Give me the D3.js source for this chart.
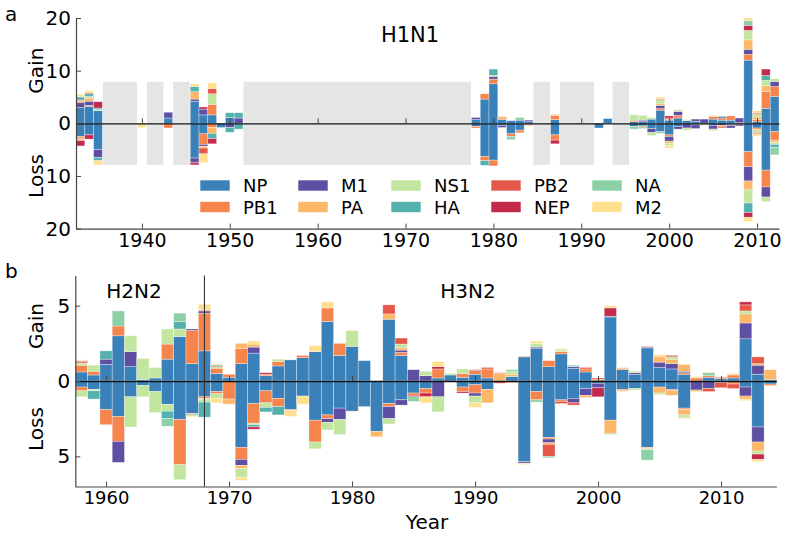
<!DOCTYPE html>
<html><head><meta charset="utf-8">
<script src="https://cdn.jsdelivr.net/npm/d3@7"></script>
<style>
html,body{margin:0;padding:0;background:#fff;}
svg{display:block;font-family:"DejaVu Sans",sans-serif;}
</style></head>
<body>
<svg id="chart" width="787" height="540"></svg>
<script>
// segment order (bottom to top of each stack)
const genes = ["NP","PB1","M1","PA","NS1","HA","PB2","NEP","NA","M2"];
const geneColors = ["#3a80b9","#f6844d","#5e4fa2","#fdb769","#c2e6a0","#55b1ad","#e55749","#c42a4c","#8cd1a5","#fee08e"];
// legend is laid out column-wise: NP/PB1, M1/PA, NS1/HA, PB2/NEP, NA/M2

// ---------- Panel a: H1N1 ----------
const yearsA = [1933,1934,1935,1940,1943,1946,1947,1948,1949,1950,1951,
  1978,1979,1980,1981,1982,1983,1984,1987,1992,1993,
  1996,1997,1998,1999,2000,2001,2002,2003,2004,2005,2006,2007,2008,2009,2010,2011,2012];
//            NP   PB1  M1   PA   NS1  HA   PB2  NEP  NA   M2
const gainA = [
  [3.0, 0,   1.0, 0.4, 0,   0.6, 0,   0,   0,   0.5],
  [3.2, 0.2, 0.8, 0.6, 0.3, 0.5, 0.2, 0,   0,   0.4],
  [2.4, 0,   0,   0,   0.2, 0.3, 0,   1.2, 0,   0  ],
  [0,   0,   0,   0,   0,   0,   0,   0,   0,   0  ],
  [1.0, 0,   1.1, 0,   0,   0,   0,   0,   0,   0  ],
  [4.2, 0,   0.4, 1.4, 0,   1.0, 0,   0,   0,   0.5],
  [1.6, 0,   1.1, 0,   0,   0,   0,   0.4, 0,   0  ],
  [1.6, 2.0, 0,   0,   2.0, 0,   1.0, 0,   0,   1.1],
  [0,   0,   0,   0,   0,   0,   0,   0,   0,   0  ],
  [1.1, 0,   0,   0,   0,   0.9, 0,   0,   0,   0  ],
  [0,   0,   1.0, 0,   0,   1.0, 0,   0,   0,   0  ],
  [0.7, 0,   0.4, 0,   0,   0,   0,   0,   0,   0  ],
  [4.6, 1.0, 0,   0,   0,   0,   0,   0,   0,   0  ],
  [7.5, 0.9, 0.5, 0.2, 0,   1.2, 0,   0,   0,   0  ],
  [0.7, 0.3, 0,   0.3, 0,   0,   0,   0,   0,   0  ],
  [0.5, 0,   0,   0,   0,   0,   0,   0,   0,   0  ],
  [0.6, 0,   0,   0,   0,   0,   0,   0,   0.5, 0  ],
  [0.3, 0,   0.3, 0,   0,   0,   0,   0,   0,   0  ],
  [0.7, 0.8, 0,   0.2, 0,   0,   0,   0,   0,   0.1],
  [0,   0,   0,   0,   0,   0,   0,   0,   0,   0  ],
  [0.9, 0,   0,   0,   0,   0,   0,   0,   0,   0  ],
  [0.3, 0.3, 0,   0,   1.0, 0,   0,   0,   0,   0  ],
  [0.3, 0,   0.3, 0,   0.9, 0,   0,   0,   0,   0  ],
  [0.8, 0,   0,   0,   0.3, 0,   0,   0,   0,   0  ],
  [2.5, 0.3, 0.6, 0.3, 0.8, 0,   0.2, 0,   0,   0.3],
  [0.6, 0.2, 0,   0,   0,   0,   0.2, 0.4, 0,   0  ],
  [1.0, 0.5, 0.75,0,   0.3, 0,   0,   0,   0,   0  ],
  [0.5, 0,   0,   0,   0.2, 0,   0,   0,   0,   0  ],
  [0.4, 0,   0.4, 0,   0,   0,   0,   0,   0,   0  ],
  [0,   0,   0.8, 0,   0,   0,   0,   0,   0,   0  ],
  [0.8, 0.5, 0,   0,   0,   0,   0,   0,   0,   0.2],
  [0.6, 0.3, 0.3, 0,   0,   0,   0,   0,   0.2, 0  ],
  [0.6, 0.8, 0,   0,   0,   0,   0,   0,   0,   0  ],
  [0,   0.1, 0.9, 0,   0,   0,   0,   0,   0,   0  ],
  [12.0,1.1, 0.95,1.8, 1.8, 0,   0,   0.95,0.9, 0.5],
  [0.3, 0.4, 0,   0.5, 0.6, 0,   0.2, 0,   0,   0.4],
  [2.85,3.2, 0,   1.1, 1.0, 0.95,0,   1.2, 0,   0  ],
  [5.1, 1.9, 0.95,0,   0.5, 0,   0,   0,   0,   0  ]
];
const lossA = [
  [2.5, 0.3, 0,   0.3, 0,   0,   0.2, 1.0, 0,   0  ],
  [2.2, 0,   0,   0,   0,   0,   0,   0.8, 0,   0  ],
  [5.0, 0,   1.5, 0,   0,   0.6, 0,   0,   0,   0.8],
  [0,   0,   0,   0,   0,   0,   0,   0,   0,   0.8],
  [0,   0.9, 0,   0,   0,   0,   0,   0,   0,   0  ],
  [6.6, 0,   0.9, 0,   0,   0,   0,   0.4, 0,   0  ],
  [2.0, 2.0, 0.35,0.35,0,   0,   1.1, 0,   0,   1.7],
  [0,   0.8, 0,   1.1, 0,   1.0, 0,   1.0, 0,   0  ],
  [0.8, 0,   0,   0,   0,   0,   0,   0,   0,   0  ],
  [0,   0,   0.8, 0,   0,   0.9, 0,   0,   0,   0  ],
  [0,   0,   0,   0,   0,   1.1, 0,   0,   0,   0  ],
  [0.6, 0.3, 0,   0,   0,   0,   0,   0,   0,   0  ],
  [6.3, 0.8, 0,   0,   0,   0.9, 0,   0,   0,   0  ],
  [7.0, 1.1, 0,   0,   0,   0,   0,   0,   0,   0  ],
  [0.4, 0,   0.4, 0,   0,   0,   0,   0,   0,   0  ],
  [2.0, 0.5, 0,   0,   0,   0,   0,   0,   0.6, 0  ],
  [1.3, 0.5, 0,   0,   0,   0,   0,   0,   0,   0  ],
  [0.2, 0.2, 0,   0,   0,   0,   0,   0,   0,   0  ],
  [2.2, 1.0, 0,   0,   0,   0,   0,   0.7, 0,   0  ],
  [0.9, 0,   0,   0,   0,   0,   0,   0,   0,   0  ],
  [0,   0,   0,   0,   0,   0,   0,   0,   0,   0  ],
  [0.6, 0,   0,   0,   0,   0,   0,   0,   0.5, 0  ],
  [0.5, 0.2, 0,   0,   0,   0,   0,   0,   0.3, 0  ],
  [1.0, 0,   0.75,0,   0.6, 0,   0,   0,   0,   0  ],
  [1.6, 0,   0,   0,   0,   0,   0,   0,   0.3, 0  ],
  [2.2, 0.3, 0.9, 0.4, 0.4, 0,   0,   0,   0,   0.5],
  [0.6, 0,   0.5, 0,   0,   0,   0,   0,   0,   0  ],
  [0,   0,   0.9, 0,   0.4, 0,   0,   0,   0,   0  ],
  [0.3, 0,   0.7, 0,   0,   0,   0,   0,   0,   0  ],
  [0,   0,   0,   0,   0.4, 0,   0,   0,   0,   0  ],
  [0.4, 0,   0.7, 0,   0.3, 0,   0,   0,   0,   0  ],
  [0.4, 0.3, 0,   0,   0,   0,   0.2, 0,   0,   0  ],
  [0.3, 0.1, 0.5, 0,   0,   0,   0,   0,   0,   0  ],
  [0,   0.2, 0.3, 0,   0,   0,   0,   0,   0,   0  ],
  [5.4, 2.85,2.7, 1.7, 2.5, 1.8, 0,   0.9, 0,   0.8],
  [0.9, 0.3, 0,   0,   0.6, 0,   0,   0.2, 0,   0.4],
  [8.9, 3.2, 1.9, 0,   0.9, 0,   0,   0,   0,   0  ],
  [1.6, 1.6, 0,   0.4, 0.4, 0.6, 0,   0,   1.4, 0  ]
];
// periods without sequence data (grey boxes)
const gapsA = [[1935.5,1939.5],[1940.5,1942.5],[1943.5,1945.5],[1951.5,1977.5],
  [1984.5,1986.5],[1987.5,1991.5],[1993.5,1995.5]];
const gapHeight = 8;

// ---------- Panel b: H2N2 / H3N2 ----------
const yearsB = d3.range(1958, 2015);
const gainB = [
  [0.6, 0.45,0,   0,   0.15,0,   0.1, 0.05,0,   0.05], //1958
  [0.4, 0.25,0,   0,   0.4, 0,   0,   0,   0,   0  ],
  [1.1, 0,   0.35,0,   0,   0.55,0,   0,   0,   0  ],
  [3.0, 0.65,0,   0,   0,   0,   0,   0,   1.0, 0  ],
  [0.95,0,   1.0, 0,   1.05,0,   0,   0,   0,   0  ],
  [0.1, 0,   0,   0,   1.4, 0,   0,   0,   0,   0  ],
  [0.2, 0,   0,   0,   0.7, 0,   0,   0,   0,   0  ],
  [1.45,1.0, 0,   0,   1.0, 0,   0,   0,   0,   0  ],
  [2.95,0,   0,   0,   0.5, 0.5, 0,   0,   0.55,0  ],
  [1.15,2.2, 0.1, 0,   0,   0,   0,   0,   0,   0  ],
  [2.0, 2.5, 0.15,0.1, 0,   0,   0,   0,   0,   0.35], //1968
  [0.5, 0.35,0,   0,   0.1, 0,   0,   0.05,0.1, 0.05],
  [0.25,0.2, 0,   0,   0,   0,   0,   0,   0,   0  ],
  [1.15,1.0, 0,   0.35,0,   0,   0,   0,   0,   0  ],
  [1.85,0,   0.4, 0.2, 0,   0,   0,   0,   0,   0.2],
  [0.35,0.1, 0,   0,   0,   0,   0,   0.1, 0,   0  ],
  [1.0, 0.3, 0,   0,   0.15,0,   0,   0,   0,   0  ],
  [1.4, 0,   0,   0,   0,   0,   0,   0,   0,   0  ],
  [1.55,0.15,0,   0,   0,   0,   0,   0,   0,   0  ],
  [1.95,0,   0,   0,   0,   0,   0,   0,   0,   0.4],
  [3.95,0.9, 0,   0,   0,   0,   0,   0,   0,   0.4], //1978
  [1.7, 0.8, 0,   0,   0,   0,   0,   0,   0,   0  ],
  [2.3, 0,   0,   0,   1.05,0,   0,   0,   0,   0  ],
  [1.35,0,   0,   0,   0,   0,   0,   0,   0,   0  ],
  [0,   0,   0,   0,   0,   0,   0,   0,   0,   0  ],
  [4.1, 0,   0,   0.35,0,   0,   0.6, 0,   0,   0  ],
  [1.7, 0.2, 0.15,0.15,0.25,0,   0.4, 0,   0,   0  ],
  [0,   0,   0.75,0,   0,   0,   0,   0,   0,   0  ],
  [0,   0,   0.35,0,   0.3, 0,   0,   0,   0,   0  ],
  [0.2, 0.6, 0,   0,   0,   0,   0,   0.15,0,   0.35],
  [0.4, 0,   0,   0,   0.1, 0,   0,   0,   0,   0  ], //1988
  [0.25,0.25,0,   0,   0.3, 0,   0,   0,   0,   0  ],
  [0.45,0.25,0,   0,   0,   0,   0,   0.05,0,   0  ],
  [0.2, 0.6, 0,   0,   0,   0,   0.1, 0,   0,   0  ],
  [0,   0,   0,   0.5, 0,   0,   0.05,0,   0,   0  ],
  [0.3, 0,   0,   0.15,0.2, 0,   0,   0,   0.1, 0  ],
  [1.6, 0.05,0,   0,   0,   0,   0,   0,   0,   0  ],
  [2.15,0,   0.1, 0,   0.25,0,   0,   0,   0,   0.15],
  [0.95,0.4, 0,   0,   0,   0,   0,   0,   0,   0  ],
  [1.8, 0.15,0,   0,   0.1, 0,   0,   0,   0,   0.1],
  [0.85,0,   0.1, 0,   0,   0,   0,   0,   0.1, 0  ], //1998
  [0.6, 0.2, 0,   0,   0,   0,   0.1, 0,   0,   0  ],
  [0,   0.1, 0,   0,   0,   0,   0.1, 0,   0,   0  ],
  [4.25,0,   0.05,0,   0,   0,   0,   0.55,0,   0.15],
  [0.75,0.1, 0,   0,   0.05,0,   0,   0,   0,   0  ],
  [0.45,0,   0.1, 0,   0.1, 0,   0,   0,   0,   0  ],
  [2.2, 0,   0.05,0,   0,   0,   0.05,0,   0,   0  ],
  [0.9, 0,   0.35,0.4, 0,   0,   0,   0,   0,   0.1],
  [0.8, 0,   0.35,0.3, 0.15,0,   0.1, 0,   0,   0  ],
  [0.45,0.1, 0.1, 0.45,0,   0,   0,   0,   0,   0  ],
  [0,   0.2, 0,   0,   0,   0,   0,   0,   0,   0.1], //2008
  [0.25,0.1, 0,   0,   0,   0,   0,   0,   0.2, 0.05],
  [0.15,0.1, 0,   0,   0,   0,   0,   0,   0,   0  ],
  [0.2, 0.2, 0,   0,   0,   0,   0,   0,   0,   0.1],
  [2.8, 0,   1.05,0.6, 0.2, 0,   0.4, 0.2, 0,   0  ],
  [0.45,0,   0.6, 0.1, 0,   0,   0.45,0,   0,   0  ],
  [0.1, 0,   0,   0.65,0,   0,   0,   0,   0,   0  ]  //2014
];
const lossB = [
  [0.4, 0.25,0,   0,   0.4, 0,   0,   0,   0,   0  ], //1958
  [0.55,0,   0,   0,   0.1, 0.55,0,   0,   0,   0  ],
  [1.9, 1.0, 0,   0,   0,   0,   0,   0,   0,   0  ],
  [2.35,1.65,1.4, 0,   0,   0,   0,   0,   0,   0  ],
  [1.05,0,   0,   0,   2.0, 0,   0,   0,   0,   0  ],
  [0.3, 0,   0,   0,   0.75,0,   0,   0,   0,   0  ],
  [0.7, 0,   0,   0,   1.4, 0,   0,   0,   0,   0  ],
  [1.55,0,   0,   0,   0.45,0.5, 0,   0,   0.5, 0  ],
  [2.55,3.0, 0,   0,   1.0, 0,   0,   0,   0,   0  ],
  [2.15,0.05,0.05,0,   0.1, 0,   0,   0,   0,   0.05],
  [1.05,0.1, 0,   0.05,0.2, 1.0, 0,   0,   0,   0  ], //1968
  [0.7, 0.15,0,   0,   0.3, 0,   0,   0,   0,   0.3],
  [0,   1.2, 0,   0.33,0,   0,   0,   0,   0,   0  ],
  [4.4, 0.8, 0.4, 0.2, 0.6, 0,   0,   0,   0,   0.2],
  [1.5, 1.3, 0,   0,   0.1, 0.15,0,   0.15,0,   0  ],
  [0.65,0.8, 0,   0,   0.3, 0.3, 0,   0,   0,   0  ],
  [1.15,0.55,0,   0,   0,   0.55,0,   0,   0,   0  ],
  [1.9, 0.05,0,   0,   0,   0,   0,   0,   0,   0.4],
  [1.0, 0,   0,   0,   0,   0,   0,   0,   0,   0.55],
  [2.6, 1.45,0,   0,   0.45,0,   0,   0,   0,   0  ],
  [2.25,0.25,0.25,0,   0.5, 0,   0,   0,   0,   0  ], //1978
  [1.8, 0,   0.75,0,   1.0, 0,   0,   0,   0,   0  ],
  [2.0, 0,   0,   0,   0,   0,   0,   0,   0,   0  ],
  [1.7, 0,   0,   0,   0,   0,   0,   0,   0,   0  ],
  [3.35,0,   0,   0.35,0,   0,   0,   0,   0,   0  ],
  [1.5, 0.2, 0.8, 0,   0.35,0,   0,   0,   0,   0  ],
  [1.25,0,   0.35,0,   0,   0,   0,   0,   0,   0  ],
  [0.8, 0.15,0,   0,   0,   0,   0,   0.1, 0.3, 0  ],
  [0.5, 0.3, 0,   0,   0,   0,   0,   0.25,0,   0.4],
  [0,   0,   1.05,0,   1.0, 0,   0,   0,   0,   0  ],
  [0,   0,   0,   0,   0,   0,   0,   0,   0,   0  ], //1988
  [0.4, 0.3, 0,   0,   0,   0,   0,   0.1, 0,   0  ],
  [0.25,0.55,0.2, 0,   0.45,0,   0,   0,   0,   0.3],
  [0.55,0,   0,   0.9, 0,   0,   0,   0,   0,   0  ],
  [0,   0.05,0,   0,   0,   0,   0.1, 0,   0,   0  ],
  [0,   0.1, 0,   0,   0,   0,   0,   0,   0,   0  ],
  [5.35,0,   0.1, 0.05,0,   0,   0,   0,   0,   0.05],
  [0.7, 0.55,0,   0,   0,   0,   0,   0,   0.15,0  ],
  [3.75,0.1, 0.25,0.1, 0,   0,   0.8, 0,   0.1, 0  ],
  [1.25,0.1, 0,   0,   0,   0,   0.15,0,   0,   0  ],
  [1.15,0,   0.3, 0,   0,   0,   0.15,0,   0,   0  ], //1998
  [0.5, 0,   0.45,0.15,0,   0,   0,   0,   0,   0  ],
  [0.15,0,   0.3, 0,   0,   0,   0,   0.6, 0,   0  ],
  [2.6, 0,   0,   0.9, 0,   0,   0,   0,   0.05,0  ],
  [0.55,0.1, 0,   0,   0,   0,   0,   0,   0,   0.05],
  [0.5, 0,   0,   0,   0.1, 0,   0,   0,   0,   0  ],
  [4.4, 0,   0,   0.1, 0.05,0,   0,   0,   0.7, 0  ],
  [0.4, 0,   0,   0.4, 0.1, 0,   0,   0,   0,   0  ],
  [0.55,0.1, 0,   0.3, 0,   0,   0,   0,   0,   0  ],
  [1.8, 0.1, 0,   0.35,0.2, 0,   0,   0,   0,   0.05],
  [0.05,0,   0.55,0.1, 0,   0,   0,   0,   0,   0  ], //2008
  [0,   0,   0.5, 0,   0,   0,   0.2, 0,   0,   0  ],
  [0,   0,   0,   0,   0.1, 0,   0.35,0,   0,   0  ],
  [0,   0.2, 0,   0,   0,   0,   0.3, 0,   0,   0  ],
  [0.4, 0,   0.6, 0.2, 0,   0,   0,   0,   0,   0.1],
  [3.05,0,   1.0, 0.6, 0.2, 0,   0,   0.35,0,   0.15],
  [0.2, 0.1, 0,   0,   0,   0,   0,   0,   0,   0  ]  //2014
];
const subtypeSplitYear = 1968;

const ticksA_x = [1940,1950,1960,1970,1980,1990,2000,2010];
const ticksA_y = [-20,-10,0,10,20];
const ticksB_x = [1960,1970,1980,1990,2000,2010];
const ticksB_y = [-5,0,5];

// ---------- drawing ----------
const svg = d3.select("#chart");
const color = d3.scaleOrdinal(genes, geneColors);

const xA = d3.scaleLinear([1932.5, 2012.5], [76, 779]);
const yA = d3.scaleLinear([-20, 20], [228.6, 18]);
const xB = d3.scaleLinear([1957.5, 2014.5], [75.3, 776.4]);
const yB = d3.scaleLinear([-7, 7], [486.5, 275.5]);

function segments(years, gains, losses) {
  const out = [];
  years.forEach((yr, i) => {
    let c = 0;
    gains[i].forEach((v, k) => { if (v > 0) out.push({yr, gene: genes[k], y0: c, y1: c + v}); c += v; });
    c = 0;
    losses[i].forEach((v, k) => { if (v > 0) out.push({yr, gene: genes[k], y0: -c, y1: -(c + v)}); c += v; });
  });
  return out;
}

function panel(x, y, years, gains, losses, xticks, yticks, fs) {
  const g = svg.append("g");
  g.append("g").selectAll("rect").data(segments(years, gains, losses)).join("rect")
    .attr("x", d => x(d.yr - 0.5))
    .attr("width", d => x(d.yr + 0.5) - x(d.yr - 0.5))
    .attr("y", d => Math.min(y(d.y0), y(d.y1)))
    .attr("height", d => Math.abs(y(d.y0) - y(d.y1)))
    .attr("fill", d => color(d.gene))
    .attr("stroke", "#fff").attr("stroke-width", 0.6).attr("stroke-opacity", 0.55);
  const zero = g.append("g").attr("transform", `translate(0,${y(0)})`)
    .call(d3.axisBottom(x).tickValues(xticks).tickSizeInner(-5).tickSizeOuter(0).tickFormat(""));
  zero.select(".domain").attr("stroke", "#111").attr("stroke-width", 1.3);
  zero.selectAll(".tick line").attr("stroke", "#444");
  const bottom = g.append("g").attr("transform", `translate(0,${y.range()[0]})`)
    .call(d3.axisBottom(x).tickValues(xticks).tickSizeInner(-5).tickSizeOuter(0).tickPadding(5).tickFormat(d3.format("d")));
  bottom.select(".domain").attr("stroke", "#444").attr("stroke-width", 1.2);
  bottom.selectAll(".tick line").attr("stroke", "#444");
  bottom.selectAll("text").attr("font-size", fs).attr("fill", "#000").attr("font-family", "DejaVu Sans");
  const left = g.append("g").attr("transform", `translate(${x.range()[0]},0)`)
    .call(d3.axisLeft(y).tickValues(yticks).tickSizeInner(-5).tickSizeOuter(0).tickPadding(5).tickFormat(d => Math.abs(d)));
  left.select(".domain").attr("stroke", "#444").attr("stroke-width", 1.2);
  left.selectAll(".tick line").attr("stroke", "#444");
  left.selectAll("text").attr("font-size", 20).attr("fill", "#000").attr("font-family", "DejaVu Sans");
  return g;
}

// Panel a grey "no data" boxes (behind bars)
const gA = svg.append("g");
gA.selectAll("rect").data(gapsA).join("rect")
  .attr("x", d => xA(d[0])).attr("width", d => xA(d[1]) - xA(d[0]))
  .attr("y", yA(gapHeight)).attr("height", yA(-gapHeight) - yA(gapHeight))
  .attr("fill", "#e5e5e5").attr("stroke", "#fff").attr("stroke-width", 1);

panel(xA, yA, yearsA, gainA, lossA, ticksA_x, ticksA_y, 19);
panel(xB, yB, yearsB, gainB, lossB, ticksB_x, ticksB_y, 18);

svg.append("line")
  .attr("x1", xB(subtypeSplitYear)).attr("x2", xB(subtypeSplitYear))
  .attr("y1", yB(7)).attr("y2", yB(-7))
  .attr("stroke", "#333").attr("stroke-width", 1.1);

const T = (x, y, s, o = {}) => svg.append("text").attr("x", x).attr("y", y).text(s)
  .attr("font-size", o.fs || 20).attr("text-anchor", o.anchor || "start")
  .attr("transform", o.rot ? `rotate(-90,${x},${y})` : null).attr("fill", "#000");
T(5, 21, "a");
T(5, 278, "b");
T(410, 42, "H1N1", {anchor: "middle", fs: 21});
T(134, 298, "H2N2", {anchor: "middle"});
T(468, 298, "H3N2", {anchor: "middle"});
T(43, yA(10), "Gain", {anchor: "middle", rot: true});
T(43, yA(-10), "Loss", {anchor: "middle", rot: true});
T(43, 326, "Gain", {anchor: "middle", rot: true});
T(43, 429, "Loss", {anchor: "middle", rot: true});
T(427, 529, "Year", {anchor: "middle"});

const legendOrder = ["NP","PB1","M1","PA","NS1","HA","PB2","NEP","NA","M2"];
const colX = [200, 298, 391, 491, 592];
const rowY = [180, 201.5];
const lg = svg.append("g").selectAll("g").data(legendOrder).join("g")
  .attr("transform", (d, i) => `translate(${colX[Math.floor(i / 2)]},${rowY[i % 2]})`);
lg.append("rect").attr("width", 30).attr("height", 11).attr("fill", d => color(d))
  .attr("stroke", "#fff").attr("stroke-width", 0.6);
lg.append("text").attr("x", 43).attr("y", 12).text(d => d).attr("font-size", 18).attr("fill", "#000");
</script>
</body></html>
